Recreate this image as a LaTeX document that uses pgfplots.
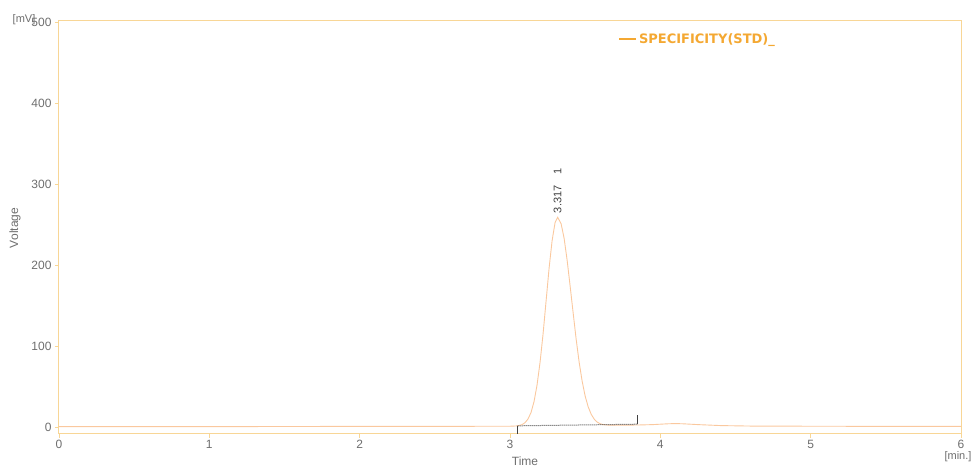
\documentclass[border=0pt]{standalone}
\usepackage{fontspec}
\setmainfont{Liberation Sans}
\newfontfamily\legfont{DejaVu Sans}
\usepackage{pgfplots}
\pgfplotsset{compat=1.18}
\definecolor{frame}{RGB}{248,214,150}
\definecolor{sig}{RGB}{250,200,158}
\definecolor{legc}{RGB}{244,168,50}
\definecolor{tick}{RGB}{110,110,110}
\begin{document}
\begin{tikzpicture}
\path[use as bounding box] (-59pt,-32pt) rectangle (919pt,434pt);
\begin{axis}[
  at={(0pt,0pt)}, anchor=south west,
  scale only axis, width=902pt, height=413pt,
  xmin=0, xmax=6, ymin=-8.6, ymax=501.3,
  xtick={0,1,2,3,4,5,6}, ytick={0,100,200,300,400,500},
  axis line style={frame, line width=1pt},
  tick style={frame, line width=0.9pt},
  tick align=outside, major tick length=4pt,
  xtick pos=bottom, ytick pos=left,
  ticklabel style={font=\fontsize{12}{14}\selectfont, text=tick},
  xticklabel style={yshift=1pt},
  /pgf/number format/assume math mode=true,
  legend style={draw=none, fill=none, at={(0.62,0.956)}, anchor=west,
    font=\legfont\fontsize{13}{15}\selectfont\bfseries, text=legc, inner sep=0pt},
  legend cell align=left,
  clip=false,
]
\addplot[sig, line width=0.9pt, forget plot] coordinates {
(0,0.5) (1,0.5) (2,0.8) (2.5,0.8) (3.0,1.0) (3.04,1.3) (3.06,1.9) (3.08,3.0)
(3.10,5.4) (3.12,10) (3.14,18) (3.16,31.5) (3.18,52) (3.20,80) (3.22,115)
(3.24,155.5) (3.26,196) (3.28,230) (3.30,252.6) (3.317,259) (3.34,251)
(3.36,233) (3.38,206) (3.40,174) (3.42,141) (3.44,108.5) (3.46,80)
(3.48,56.5) (3.50,38.2) (3.52,25) (3.54,15.8) (3.56,9.8) (3.58,6.1)
(3.60,4) (3.62,3) (3.64,2.5) (3.68,2.3) (3.75,2.3) (3.85,2.5) (3.95,3)
(4.05,4) (4.1,4.3) (4.15,4) (4.25,3) (4.4,1.8) (4.6,1.2) (5,1) (5.5,0.8) (6,0.8)
};
\addplot[black!70, densely dotted, line width=1pt, forget plot] coordinates {(3.05,1.5) (3.85,3.5)};
\addplot[black!75, line width=0.9pt, forget plot] coordinates {(3.05,1.5) (3.05,-8)};
\addplot[black!75, line width=0.9pt, forget plot] coordinates {(3.85,3.5) (3.85,15)};
\addlegendimage{legc, line width=1.5pt}
\addlegendentry{SPECIFICITY(STD)\_}
\node[rotate=90, anchor=west, text=black!75, font=\fontsize{11}{12}\selectfont, inner sep=0pt]
  at (axis cs:3.317,264) {3.317\hspace{11pt}1};
\end{axis}
\node[text=tick, font=\fontsize{12}{14}\selectfont] at (466pt,-27pt) {Time};
\node[text=tick, font=\fontsize{11}{13}\selectfont] at (899pt,-23pt) {[min.]};
\node[text=tick, font=\fontsize{12}{14}\selectfont, rotate=90] at (-44pt,206pt) {Voltage};
\node[text=tick, font=\fontsize{11}{13}\selectfont] at (-35pt,414pt) {[mV]};
\end{tikzpicture}
\end{document}
